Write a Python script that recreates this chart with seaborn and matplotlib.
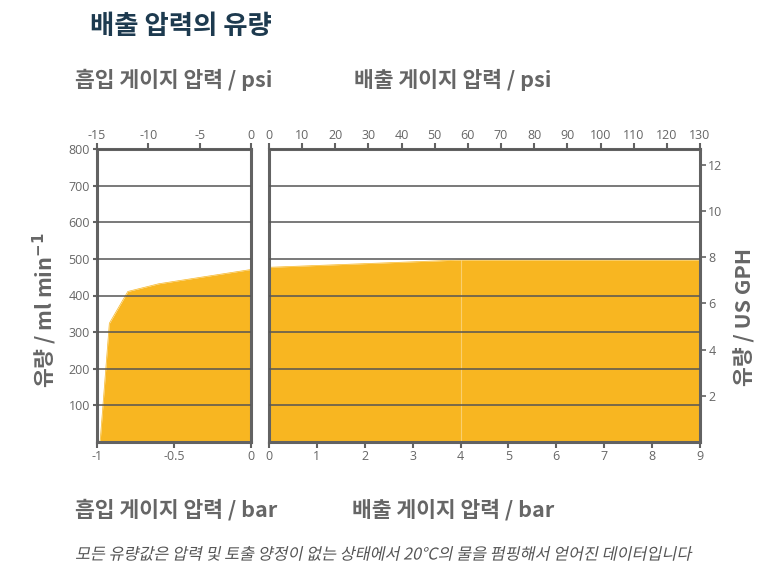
import seaborn as sns
import matplotlib.pyplot as plt
from matplotlib.patheffects import AbstractPathEffect
from matplotlib.transforms import Affine2D

# suction side (bar gauge, ml/min)
suction_bar = [-0.98, -0.92, -0.80, -0.60, 0.0]
suction_flow = [0, 324, 411, 432, 471]
# discharge side (bar gauge, ml/min)
discharge_bar = [0, 4, 9]
discharge_flow = [477, 497, 497]

flow_ticks = [100, 200, 300, 400, 500, 600, 700, 800]
gph_ticks = [2, 4, 6, 8, 10, 12]
suction_psi_ticks = [-15, -10, -5, 0]
discharge_psi_ticks = list(range(0, 140, 10))
suction_bar_ticks = [-1, -0.5, 0]
discharge_bar_ticks = list(range(0, 10))
ML_PER_GPH = 63.09

sns.set_theme(style="white")
plt.rcParams['font.family'] = ['Noto Sans CJK KR', 'DejaVu Sans']
plt.rcParams['axes.unicode_minus'] = False

fill_c = '#F8B621'
spine_c = '#626262'
grid_c = '#555555'
tick_c = '#666666'
label_c = '#666666'
tick_font = 'Open Sans'


class Slant(AbstractPathEffect):
    def draw_path(self, renderer, gc, tpath, affine, rgbFace=None):
        renderer.draw_path(gc, tpath, Affine2D().skew_deg(12, 0) + affine, rgbFace)


fig = plt.figure(figsize=(7.59, 5.73), dpi=100)
ax1 = fig.add_axes([97 / 759, 1 - 442 / 573, 154 / 759, 293 / 573])
ax2 = fig.add_axes([269 / 759, 1 - 442 / 573, 431 / 759, 293 / 573])


def ticks_font(ax):
    for lab in ax.get_xticklabels() + ax.get_yticklabels():
        lab.set_fontfamily(tick_font)


def style(ax):
    for s in ax.spines.values():
        s.set_color(spine_c)
        s.set_linewidth(2.2)
    ax.set_ylim(0, 800)
    ax.set_yticks(flow_ticks)
    ax.set_axisbelow(False)
    ax.grid(axis='y', color=grid_c, lw=1.1, zorder=3)
    ax.grid(axis='x', visible=False)
    ax.tick_params(colors=spine_c, labelcolor=tick_c, labelsize=9,
                   length=4, width=1.5, pad=2)


def twin_style(ax):
    ax.tick_params(colors=spine_c, labelcolor=tick_c, labelsize=9,
                   length=4, width=1.5, pad=1)
    for s in ax.spines.values():
        s.set_visible(False)
    ax.grid(False)


# left panel: suction
sns.lineplot(x=suction_bar, y=suction_flow, ax=ax1, color=fill_c, lw=0.5)
ax1.fill_between(suction_bar, suction_flow, color=fill_c, lw=0, zorder=2)
style(ax1)
ax1.set_xlim(-1, 0)
ax1.set_xticks(suction_bar_ticks)
ax1.set_xticklabels(['-1', '-0.5', '0'])

top1 = ax1.twiny()
top1.set_xlim(-15, 0)
top1.set_xticks(suction_psi_ticks)
twin_style(top1)
ax1.tick_params(axis='y', left=True, length=3)

# right panel: discharge
sns.lineplot(x=discharge_bar, y=discharge_flow, ax=ax2, color=fill_c, lw=0.5)
ax2.fill_between(discharge_bar, discharge_flow, color=fill_c, lw=0, zorder=2)
ax2.vlines(discharge_bar[1], 0, discharge_flow[1], color='white', alpha=0.35,
           lw=0.8, zorder=2.5)
style(ax2)
ax2.set_xlim(0, 9)
ax2.set_xticks(discharge_bar_ticks)

top2 = ax2.twiny()
top2.set_xlim(0, 130)
top2.set_xticks(discharge_psi_ticks)
twin_style(top2)

right = ax2.twinx()
right.set_ylim(0, 800 / ML_PER_GPH)
right.set_yticks(gph_ticks)
twin_style(right)
right.tick_params(pad=2, width=1.2)
ax2.tick_params(axis='y', left=False, labelleft=False, right=False)

for a in (ax1, ax2, top1, top2, right):
    ticks_font(a)

# texts
fig.text(90 / 759, 1 - 27 / 573, '배출 압력의 유량', fontsize=19,
         fontweight='bold', color='#1d3a4f', va='center', ha='left')
lab_kw = dict(fontsize=15.5, fontweight='bold', color=label_c, va='center')
fig.text(75 / 759, 1 - 80 / 573, '흡입 게이지 압력 / psi', ha='left', **lab_kw)
fig.text(354 / 759, 1 - 80 / 573, '배출 게이지 압력 / psi', ha='left', **lab_kw)
fig.text(75 / 759, 1 - 510 / 573, '흡입 게이지 압력 / bar', ha='left', **lab_kw)
fig.text(352 / 759, 1 - 510 / 573, '배출 게이지 압력 / bar', ha='left', **lab_kw)
fig.text(45 / 759, 1 - 310 / 573, '유량 / ml min$^{\\mathbf{-1}}$', ha='center',
         rotation=90, **lab_kw)
fig.text(745 / 759, 1 - 317 / 573, '유량 / US GPH', ha='center', rotation=90,
         **lab_kw)
fig.text(75 / 759, 1 - 555 / 573,
         '모든 유량값은 압력 및 토출 양정이 없는 상태에서 20°C의 물을 펌핑해서 얻어진 데이터입니다',
         fontsize=11.7, color='#555555', va='center', ha='left',
         path_effects=[Slant()])

fig.savefig('out.png', dpi=100)
